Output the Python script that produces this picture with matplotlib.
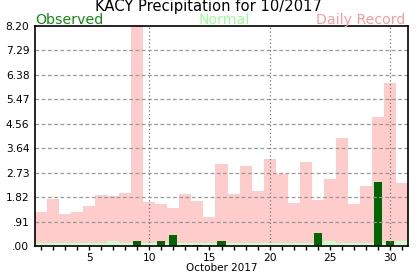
import matplotlib
matplotlib.use("Agg")
import matplotlib.pyplot as plt
import numpy as np

days = list(range(1, 32))
record = [1.27, 1.75, 1.20, 1.28, 1.50, 1.91, 1.87, 1.98, 8.50, 1.65,
          1.58, 1.43, 1.95, 1.69, 1.09, 3.07, 1.95, 2.99, 2.06, 3.24,
          2.70, 1.61, 3.13, 1.73, 2.51, 4.03, 1.58, 2.25, 4.82, 6.08, 2.36]
normal = [0.12, 0.12, 0.12, 0.12, 0.12, 0.12, 0.17, 0.12, 0.12, 0.12,
          0.12, 0.12, 0.12, 0.12, 0.12, 0.12, 0.12, 0.12, 0.12, 0.12,
          0.12, 0.12, 0.12, 0.12, 0.17, 0.12, 0.12, 0.12, 0.12, 0.12, 0.17]
observed = [0, 0, 0, 0, 0, 0, 0, 0, 0.20, 0,
            0.20, 0.41, 0.05, 0.05, 0, 0.20, 0, 0, 0, 0,
            0, 0, 0, 0.50, 0, 0, 0, 0, 2.39, 0.20, 0]
yticks = [0.0, 0.91, 1.82, 2.73, 3.64, 4.56, 5.47, 6.38, 7.29, 8.20]
ytick_labels = [".00", ".91", "1.82", "2.73", "3.64", "4.56", "5.47", "6.38", "7.29", "8.20"]
xtick_labels = [5, 10, 15, 20, 25, 30]

fig = plt.figure(figsize=(4.17, 2.76), dpi=100)
ax = fig.add_axes([35/417, 30/276, 373/417, 220/276])

ax.bar(days, record, width=1.0, color="#ffcccc", zorder=1)
ax.bar(days, normal, width=1.0, color="#ccffcc", zorder=2)
ax.bar(days, observed, width=0.67, color="#006600", zorder=3)

ax.set_xlim(0.5, 31.5)
ax.set_ylim(0, 8.20)

for y in yticks[1:-1]:
    ax.axhline(y, color="#999999", linestyle=(0, (3, 2)), linewidth=0.9, zorder=4)
for x in [10, 20, 30]:
    ax.axvline(x, color="#777777", linestyle=(0, (1, 2)), linewidth=0.9, zorder=4)

ax.set_yticks(yticks)
ax.set_yticklabels(ytick_labels, fontsize=7.7)
ax.tick_params(axis="y", length=0, pad=4)
ax.set_xticks(days)
ax.set_xticklabels([str(d) if d in xtick_labels else "" for d in days], fontsize=7.7)
ax.tick_params(axis="x", length=3, width=1, direction="out", pad=2)

for s in ax.spines.values():
    s.set_linewidth(1.2)
    s.set_color("black")
    s.set_zorder(5)

ax.set_xlabel("October 2017", fontsize=7.5, labelpad=0)

fig.text(0.5, 1 - 11.5/276, "KACY Precipitation for 10/2017", ha="center", va="baseline", fontsize=10.6)
fig.text(35/417, 1 - 24/276, "Observed", ha="left", va="baseline", fontsize=10.2, color="#138a13")
fig.text(224/417, 1 - 24/276, "Normal", ha="center", va="baseline", fontsize=10.2, color="#99ff99")
fig.text(405/417, 1 - 24/276, "Daily Record", ha="right", va="baseline", fontsize=10.2, color="#ff9999")

fig.savefig("out.png", dpi=100)
